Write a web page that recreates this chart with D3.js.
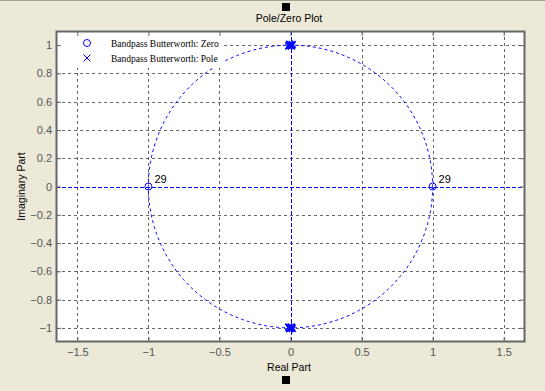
<!DOCTYPE html>
<html>
<head>
<meta charset="utf-8">
<script src="https://cdn.jsdelivr.net/npm/d3@7"></script>
<style>
  html, body { margin: 0; padding: 0; background: #ECE9D8; }
  svg { display: block; }
  .tick text { font-family: Arial, "Liberation Sans", sans-serif; font-size: 11px; fill: #555; }
</style>
</head>
<body>
<script>
// data
const xTicks = [-1.5, -1, -0.5, 0, 0.5, 1, 1.5];
const yTicks = [-1, -0.8, -0.6, -0.4, -0.2, 0, 0.2, 0.4, 0.6, 0.8, 1];
const zeroRe = [-1, 1];
const zeroIm = [0, 0];
const zeroMult = [29, 29];
// poles cluster at +/- j
const poleRe = [-0.012, -0.006, 0, 0.006, 0.012, -0.012, -0.006, 0, 0.006, 0.012];
const poleIm = [0.995, 1.006, 1.0, 0.994, 1.004, -0.995, -1.006, -1.0, -0.994, -1.004];
const legendLabels = ["Bandpass Butterworth: Zero", "Bandpass Butterworth: Pole"];

const W = 545, H = 391;
const plotL = 56, plotR = 525, plotT = 31, plotB = 342;
const blue = "#0000ff";

const svg = d3.select(document.body).append("svg")
    .attr("width", W).attr("height", H);

svg.append("rect").attr("width", W).attr("height", H).attr("fill", "#ECE9D8");
svg.append("line").attr("x1", 0).attr("x2", W).attr("y1", 0.5).attr("y2", 0.5)
    .attr("stroke", "#a5a296");

const x = d3.scaleLinear().domain([-1.65, 1.65]).range([plotL, plotR]);
const y = d3.scaleLinear().domain([-1.1, 1.1]).range([plotB, plotT]);

// plot area
svg.append("rect").attr("x", plotL).attr("y", plotT)
    .attr("width", plotR - plotL).attr("height", plotB - plotT)
    .attr("fill", "#fff");

// grid (lines through 0 are covered by the blue axes)
const grid = svg.append("g").attr("stroke", "#666").attr("stroke-dasharray", "3,3").attr("shape-rendering", "crispEdges");
grid.selectAll(".gx").data(xTicks.filter(d => d !== 0)).enter().append("line")
    .attr("x1", d => Math.round(x(d)) + 0.5).attr("x2", d => Math.round(x(d)) + 0.5)
    .attr("y1", plotT).attr("y2", plotB);
grid.selectAll(".gy").data(yTicks.filter(d => d !== 0)).enter().append("line")
    .attr("y1", d => Math.round(y(d)) + 0.5).attr("y2", d => Math.round(y(d)) + 0.5)
    .attr("x1", plotL).attr("x2", plotR);

// real & imaginary axes in blue dashes
const axG = svg.append("g").attr("stroke", blue).attr("stroke-dasharray", "4,2").attr("shape-rendering", "crispEdges");
axG.append("line").attr("x1", plotL).attr("x2", plotR)
    .attr("y1", Math.round(y(0)) + 0.5).attr("y2", Math.round(y(0)) + 0.5);
axG.append("line").attr("y1", plotT).attr("y2", plotB)
    .attr("x1", Math.round(x(0)) + 0.5).attr("x2", Math.round(x(0)) + 0.5);

// unit circle
svg.append("ellipse")
    .attr("cx", x(0)).attr("cy", y(0))
    .attr("rx", x(1) - x(0)).attr("ry", y(0) - y(1))
    .attr("fill", "none").attr("stroke", blue).attr("stroke-dasharray", "3,3");

// legend background hides the grid behind it
svg.append("rect").attr("x", plotL).attr("y", plotT).attr("width", 167).attr("height", 37).attr("fill", "#fff");

// axes with inward ticks
const fmt = d => d3.format("")(d);
const gB = svg.append("g").attr("transform", "translate(0," + plotB + ")")
    .call(d3.axisBottom(x).tickValues(xTicks).tickSize(-5).tickPadding(6).tickFormat(fmt));
const gT = svg.append("g").attr("transform", "translate(0," + plotT + ")")
    .call(d3.axisTop(x).tickValues(xTicks).tickSize(-5).tickFormat(""));
const gL = svg.append("g").attr("transform", "translate(" + plotL + ",0)")
    .call(d3.axisLeft(y).tickValues(yTicks).tickSize(-5).tickPadding(4).tickFormat(fmt));
const gR = svg.append("g").attr("transform", "translate(" + plotR + ",0)")
    .call(d3.axisRight(y).tickValues(yTicks).tickSize(-5).tickFormat(""));
[gB, gT, gL, gR].forEach(g => {
    g.selectAll(".domain").remove();
    g.selectAll(".tick line").attr("stroke", "#666");
});

svg.append("rect").attr("x", plotL + 0.5).attr("y", plotT + 0.5)
    .attr("width", plotR - plotL - 1).attr("height", plotB - plotT - 1)
    .attr("fill", "none").attr("stroke", "#666").attr("stroke-width", 2);

// zeros
svg.selectAll(".zero").data(zeroRe).enter().append("circle")
    .attr("cx", d => x(d)).attr("cy", (d, i) => y(zeroIm[i])).attr("r", 3.5)
    .attr("fill", "none").attr("stroke", blue).attr("stroke-width", 1);
svg.selectAll(".mult").data(zeroRe).enter().append("text")
    .attr("x", d => x(d) + 6).attr("y", (d, i) => y(zeroIm[i]) - 4)
    .attr("font-family", "Arial, 'Liberation Sans', sans-serif").attr("font-size", 11)
    .text((d, i) => zeroMult[i]);

// poles
const xMark = (g, s) => g.attr("d", "M" + (-s) + "," + (-s) + "L" + s + "," + s + "M" + (-s) + "," + s + "L" + s + "," + (-s));
svg.selectAll(".pole").data(poleRe).enter().append("path")
    .attr("transform", (d, i) => "translate(" + x(d) + "," + y(poleIm[i]) + ")")
    .call(xMark, 3.5)
    .attr("fill", "none").attr("stroke", blue).attr("stroke-width", 1.6);

// legend
const leg = svg.append("g");
leg.append("circle").attr("cx", 87).attr("cy", 43).attr("r", 3.5)
    .attr("fill", "none").attr("stroke", blue);
leg.append("path").attr("transform", "translate(87,58)").call(xMark, 3.5)
    .attr("fill", "none").attr("stroke", blue);
leg.selectAll(".lt").data(legendLabels).enter().append("text")
    .attr("x", 111).attr("y", (d, i) => 46.5 + i * 15)
    .attr("font-family", "'Times New Roman', 'Liberation Serif', serif").attr("font-size", 9.5)
    .text(d => d);

// titles
const sans = "Arial, 'Liberation Sans', sans-serif";
svg.append("text").attr("x", 289).attr("y", 22).attr("text-anchor", "middle")
    .attr("font-family", sans).attr("font-size", 10.5).text("Pole/Zero Plot");
svg.append("text").attr("x", 289).attr("y", 371).attr("text-anchor", "middle")
    .attr("font-family", sans).attr("font-size", 10.5).text("Real Part");
svg.append("text").attr("transform", "translate(25," + y(0) + ") rotate(-90)")
    .attr("text-anchor", "middle")
    .attr("font-family", sans).attr("font-size", 10.5).text("Imaginary Part");

// small black handles above title and below x label
svg.append("rect").attr("x", 282).attr("y", 3).attr("width", 8).attr("height", 8).attr("fill", "#000");
svg.append("rect").attr("x", 282).attr("y", 376).attr("width", 8).attr("height", 8).attr("fill", "#000");
</script>
</body>
</html>
